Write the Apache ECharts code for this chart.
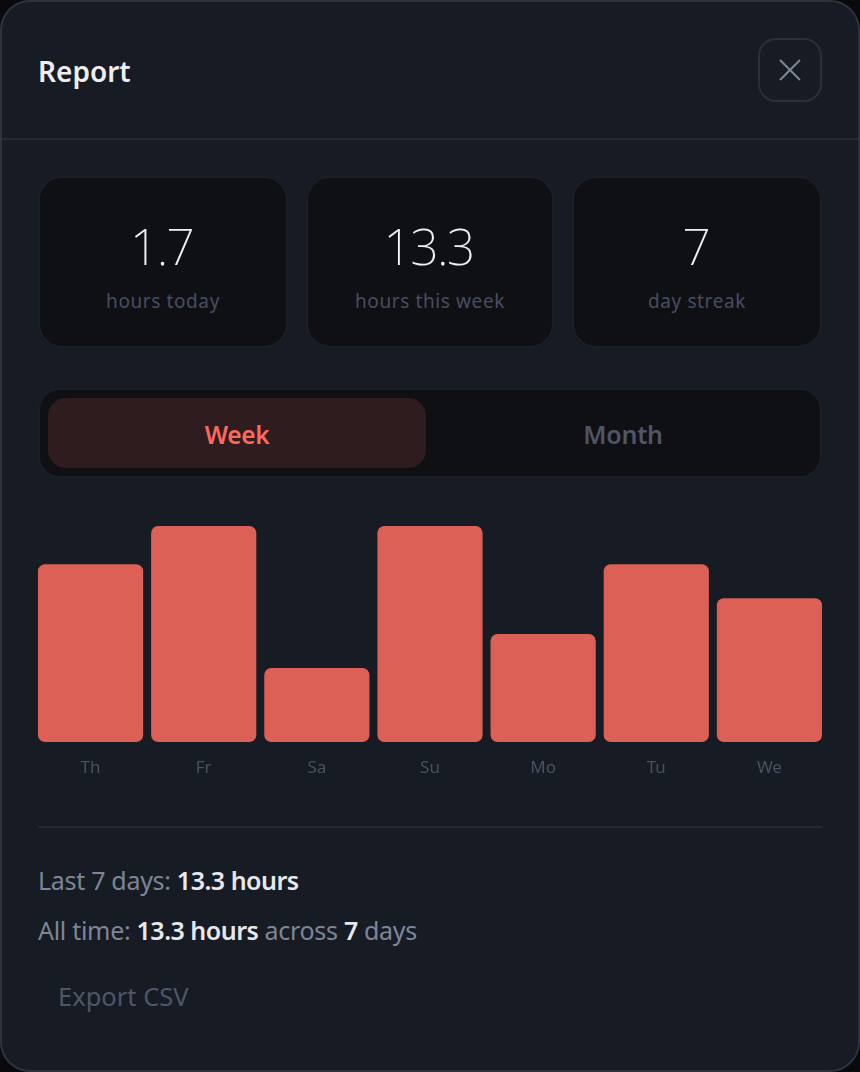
<!DOCTYPE html>
<html>
<head>
<meta charset="utf-8">
<title>Report</title>
<script src="https://cdn.jsdelivr.net/npm/echarts@6/dist/echarts.min.js"></script>
<style>
    * { box-sizing: border-box; }
    html, body { margin: 0; padding: 0; background: #0a0a0d; }
    body { width: 860px; height: 1072px; overflow: hidden; font-family: "Noto Sans", sans-serif; }
    #card { position: absolute; left: 0; top: 0; width: 860px; height: 1072px; background: #171b23; border: 2px solid #2d323c; border-radius: 30px; }
    .abs { position: absolute; white-space: nowrap; }
    #title { left: 38px; top: 50px; font-size: 28px; line-height: 42px; font-weight: 600; color: #eceef2; }
    #close { left: 758px; top: 38px; width: 64px; height: 64px; border: 2px solid #2a2f38; border-radius: 18px; }
    #close svg { position: absolute; left: 18px; top: 18px; }
    #header-line { left: 2px; top: 138px; width: 856px; height: 2px; background: #262b34; }
    .tile { top: 176px; height: 172px; background: #0f1014; border: 2px solid #1b1e25; border-radius: 24px; text-align: center; }
    .tile .value { position: absolute; left: 0; right: 3px; top: 35px; font-size: 50px; line-height: 66px; font-weight: 200; letter-spacing: -1.8px; color: #eef0f4; }
    .tile .label { position: absolute; left: 0; right: 0; top: 108px; font-size: 19px; line-height: 30px; letter-spacing: 0.6px; color: #474d60; }
    #tabs { left: 38px; top: 388px; width: 784px; height: 90px; background: #0f1014; border: 2px solid #1b1e25; border-radius: 22px; }
    #tab-week { left: 48px; top: 398px; width: 378px; height: 70px; background: #2f1c1e; border-radius: 18px; text-align: center; font-size: 24.5px; line-height: 73px; font-weight: 600; letter-spacing: -0.3px; color: #fc6a5e; }
    #tab-month { left: 434px; top: 398px; width: 378px; height: 70px; text-align: center; font-size: 25px; line-height: 72px; font-weight: 600; letter-spacing: -0.2px; color: #4f5567; }
    #chart { position: absolute; left: 34px; top: 500px; width: 792px; height: 290px; }
    #chart-line { left: 38px; top: 826px; width: 784px; height: 2px; background: #262b34; }
    .summary { left: 38px; font-size: 25px; line-height: 36px; letter-spacing: -0.3px; color: #7d8699; }
    .summary b { font-weight: 600; letter-spacing: -0.5px; color: #e6e8ed; }
    #export { left: 58px; top: 978px; font-size: 25.5px; line-height: 36px; color: #4f5668; }
</style>
</head>
<body>
<div id="card"></div>
<div class="abs" id="title">Report</div>
<div class="abs" id="close">
    <svg width="24" height="24" viewBox="0 0 24 24"><path d="M2 2 L22 22 M22 2 L2 22" stroke="#7f8696" stroke-width="2" fill="none"/></svg>
</div>
<div class="abs" id="header-line"></div>
<div id="tiles"></div>
<div class="abs" id="tabs"></div>
<div class="abs" id="tab-week">Week</div>
<div class="abs" id="tab-month">Month</div>
<div id="chart"></div>
<div class="abs" id="chart-line"></div>
<div class="abs summary" style="top:862px">Last 7 days: <b>13.3 hours</b></div>
<div class="abs summary" style="top:912px">All time: <b>13.3 hours</b> across <b>7</b> days</div>
<div class="abs" id="export">Export CSV</div>

<script>
const days = ["Th", "Fr", "Sa", "Su", "Mo", "Tu", "We"];
const hours = [2.14, 2.6, 0.89, 2.6, 1.3, 2.14, 1.73];

const statValues = ["1.7", "13.3", "7"];
const statLabels = ["hours today", "hours this week", "day streak"];
const tileLefts = [38, 306, 572];
const tileWidths = [250, 248, 250];

function addTiles() {
    const holder = document.getElementById("tiles");

    statValues.forEach((value, i) => {
        const tile = document.createElement("div");
        tile.className = "abs tile";
        tile.style.left = `${tileLefts[i]}px`;
        tile.style.width = `${tileWidths[i]}px`;
        tile.innerHTML = `<div class="value">${value}</div><div class="label">${statLabels[i]}</div>`;
        holder.appendChild(tile);
    });
}

function createBarChart() {
    const chart = echarts.init(document.getElementById("chart"));

    chart.setOption({
        animation: false,
        grid: {
            left: 0,
            right: 0,
            top: 26,
            bottom: 48
        },
        xAxis: {
            type: "category",
            data: days,
            axisLine: { show: false },
            axisTick: { show: false },
            axisLabel: {
                color: "#485062",
                fontFamily: "Noto Sans",
                fontSize: 17,
                margin: 18
            }
        },
        yAxis: {
            type: "value",
            min: 0,
            max: 2.6,
            show: false
        },
        series: [
            {
                type: "bar",
                data: hours,
                barWidth: 105.2,
                itemStyle: {
                    color: "#dc6055",
                    borderRadius: 7
                }
            }
        ]
    });

    return chart;
}

addTiles();
createBarChart();
</script>
</body>
</html>
